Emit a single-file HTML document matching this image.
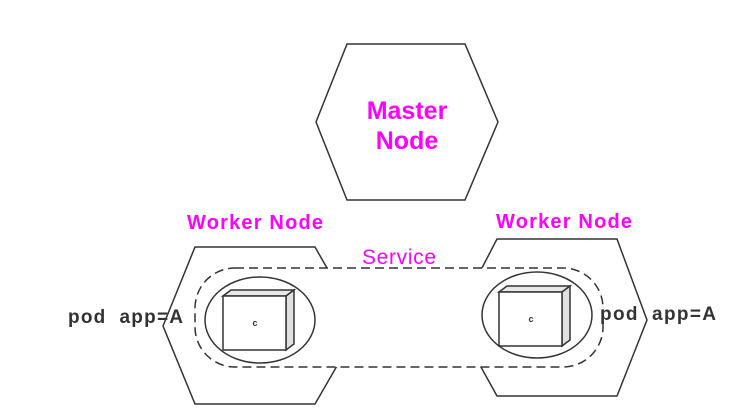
<!DOCTYPE html>
<html><head><style>body{margin:0;background:#fff}svg{display:block}</style></head><body>
<svg width="752" height="414" viewBox="0 0 752 414" xmlns="http://www.w3.org/2000/svg" font-family="Liberation Sans, sans-serif">
<polygon points="347,44 465,44 498,122 465,200 347,200 316,122" fill="#fff" stroke="#333" stroke-width="1.5"/>
<text x="407" y="119" text-anchor="middle" font-size="25" font-weight="bold" fill="#f0f">Master</text>
<text x="407" y="149" text-anchor="middle" font-size="25" font-weight="bold" fill="#f0f">Node</text>
<polygon points="195,247 315,247 360,326 315,404 195,404 163,326" fill="#fff" stroke="#333" stroke-width="1.5"/>
<polygon points="497,239 617,239 647,320 617,396 497,396 455,320" fill="#fff" stroke="#333" stroke-width="1.5"/>
<rect x="195" y="268" width="408" height="99" rx="40" ry="40" fill="#fff" stroke="#333" stroke-width="1.5" stroke-dasharray="9,5"/>
<ellipse cx="260" cy="320" rx="55" ry="43" fill="#fff" stroke="#333" stroke-width="1.5"/>
<ellipse cx="537" cy="315" rx="55" ry="43" fill="#fff" stroke="#333" stroke-width="1.5"/>
<g stroke="#333" stroke-width="1.5">
<polygon points="223,296 231,290 294,290 286,296" fill="#e8e8e8"/>
<polygon points="286,296 294,290 294,344 286,350" fill="#e0e0e0"/>
<rect x="223" y="296" width="63" height="54" fill="#fff"/>
<polygon points="499,292 507,286 570,286 562,292" fill="#e8e8e8"/>
<polygon points="562,292 570,286 570,340 562,346" fill="#e0e0e0"/>
<rect x="499" y="292" width="63" height="54" fill="#fff"/>
</g>
<text x="255" y="326" text-anchor="middle" font-size="9" font-weight="bold" fill="#333">c</text>
<text x="531" y="322" text-anchor="middle" font-size="9" font-weight="bold" fill="#333">c</text>
<text x="255" y="229" text-anchor="middle" font-size="20" font-weight="bold" fill="#f0f" textLength="136">Worker Node</text>
<text x="564" y="228" text-anchor="middle" font-size="20" font-weight="bold" fill="#f0f" textLength="136">Worker Node</text>
<text x="399" y="264" text-anchor="middle" font-size="21" fill="#f0f" textLength="74">Service</text>
<text x="68" y="323" font-size="19" font-weight="bold" fill="#333" xml:space="preserve" textLength="115">pod  app=A</text>
<text x="600" y="320" font-size="19" font-weight="bold" fill="#333" xml:space="preserve" textLength="116">pod  app=A</text>
</svg>
</body></html>
